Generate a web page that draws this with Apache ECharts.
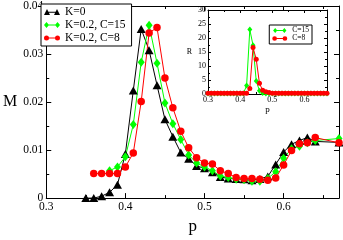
<!DOCTYPE html>
<html><head><meta charset="utf-8">
<script src="https://cdn.jsdelivr.net/npm/echarts@6/dist/echarts.min.js"></script>
<style>html,body{margin:0;padding:0;background:#fff}#c{width:343px;height:240px}</style>
</head><body><div id="c"></div>
<script>
// ---- main panel data: M vs p ----
const pK0 = [0.35,0.36,0.37,0.38,0.39,0.40,0.41,0.42,0.43,0.44,0.45,0.46,0.47,0.48,0.49,0.50,0.51,0.52,0.53,0.54,0.55,0.56,0.57,0.58,0.59,0.60,0.61,0.62,0.63,0.64,0.67];
const mK0 = [0.0000,0.0000,0.0004,0.0012,0.0028,0.0092,0.0224,0.0352,0.0308,0.0235,0.0164,0.0128,0.0095,0.0082,0.0067,0.0062,0.0054,0.0044,0.0041,0.0040,0.0039,0.0037,0.0040,0.0045,0.0070,0.0096,0.0112,0.0120,0.0126,0.0118,0.0116];
const pC15 = [0.38,0.39,0.40,0.41,0.42,0.43,0.44,0.45,0.46,0.47,0.48,0.49,0.50,0.51,0.52,0.53,0.54,0.55,0.56,0.57,0.58,0.59,0.60,0.61,0.62,0.63,0.64,0.67];
const mC15 = [0.0057,0.0065,0.0086,0.0153,0.0283,0.0360,0.0281,0.0198,0.0155,0.0122,0.0090,0.0073,0.0065,0.0057,0.0046,0.0043,0.0039,0.0038,0.0035,0.0035,0.0041,0.0055,0.0083,0.0103,0.0108,0.0115,0.0120,0.0124];
const pC8 = [0.36,0.37,0.38,0.39,0.40,0.41,0.42,0.43,0.44,0.45,0.46,0.47,0.48,0.49,0.50,0.51,0.52,0.53,0.54,0.55,0.56,0.57,0.58,0.59,0.60,0.61,0.62,0.63,0.64,0.67];
const mC8 = [0.0051,0.0051,0.0051,0.0051,0.0065,0.0094,0.0201,0.0344,0.0355,0.0250,0.0188,0.0139,0.0105,0.0084,0.0073,0.0071,0.0057,0.0051,0.0043,0.0041,0.0041,0.0039,0.0037,0.0042,0.0069,0.0099,0.0113,0.0115,0.0126,0.0115];

// ---- inset data: R vs p ----
const pInset = [0.30,0.31,0.32,0.33,0.34,0.35,0.36,0.37,0.38,0.39,0.40,0.41,0.42,0.43,0.44,0.45,0.46,0.47,0.48,0.49,0.50,0.51,0.52,0.53,0.54,0.55,0.56,0.57,0.58,0.59,0.60,0.61,0.62,0.63,0.64,0.65,0.66,0.67];
const rC15 = [0.2,0.2,0.2,0.2,0.2,0.2,0.2,0.2,0.2,0.2,0.2,0.2,3.0,23.0,17.4,4.6,1.2,0.4,0.2,0.2,0.2,0.2,0.2,0.2,0.2,0.2,0.2,0.2,0.2,0.2,0.2,0.2,0.2,0.2,0.2,0.2,0.2,0.2];
const rC8 = [0.3,0.3,0.3,0.3,0.3,0.3,0.3,0.3,0.3,0.3,0.3,0.3,0.3,2.0,16.6,12.4,3.8,1.3,0.8,0.5,0.3,0.3,0.3,0.3,0.3,0.3,0.3,0.3,0.3,0.3,0.3,0.3,0.3,0.3,0.3,0.3,0.3,0.3];

// ---- tick labels ----
const xTickLabels = ['0.3','0.4','0.5','0.6'];
const yTickLabels = ['0','0.01','0.02','0.03','0.04'];
const rTickLabels = ['0','5','10','15','20','25','30'];

const FONT = 'Liberation Serif';
const zip = (xs, ys) => xs.map((x, i) => [x, ys[i]]);
const BLACK = '#000000', GREEN = '#00ff00', RED = '#ff0000';

function axis(o) {
  const base = {
    type: 'value',
    axisLine: { onZero: false, lineStyle: { color: '#000', width: 1 } },
    axisTick: { inside: true, length: o.tickLen || 5, lineStyle: { color: '#000', width: 1 } },
    minorTick: { show: true, splitNumber: 2, length: o.minorLen || 3, lineStyle: { color: '#000', width: 1 } },
    splitLine: { show: false },
    axisLabel: { show: false }
  };
  return Object.assign(base, o.extra);
}

const xFmt = v => { const i = Math.round((v - 0.3) / 0.1); return xTickLabels[i] || ''; };
const yFmt = v => { const i = Math.round(v / 0.01); return yTickLabels[i] || ''; };
const rFmt = v => { const i = Math.round(v / 5); return rTickLabels[i] || ''; };

const chart = echarts.init(document.getElementById('c'), null, { renderer: 'canvas' });

const iconTri = 'path://M0,14L6,2L12,14ZM20,14L26,2L32,14ZM6,7.5L26,7.5L26,9.5L6,9.5Z';
const iconDia = 'path://M0,8L5,2L10,8L5,14ZM22,8L27,2L32,8L27,14ZM5,7L27,7L27,9L5,9Z';
const iconCir = 'path://M0,8A5,5 0 1,1 10,8A5,5 0 1,1 0,8ZM22,8A5,5 0 1,1 32,8A5,5 0 1,1 22,8ZM5,7L27,7L27,9L5,9Z';

const option = {
  animation: false,
  backgroundColor: '#fff',
  grid: [
    { left: 41, top: 4, right: 4, bottom: 27, containLabel: false },
    { left: 208, top: 10, right: 16, bottom: 146, containLabel: false, show: true, backgroundColor: '#fff', borderWidth: 0, z: 3 }
  ],
  xAxis: [
    axis({ extra: { gridIndex: 0, position: 'bottom', min: 0.3, max: 0.67, interval: 0.1,
      axisLabel: { show: true, showMaxLabel: false, formatter: xFmt, fontFamily: FONT, fontSize: 11.5, color: '#000', margin: 3 },
      name: 'p', nameLocation: 'middle', nameGap: 8, nameTextStyle: { fontFamily: FONT, fontSize: 17, color: '#000' } } }),
    axis({ extra: { gridIndex: 0, position: 'top', min: 0.3, max: 0.67, interval: 0.1 } }),
    axis({ tickLen: 3, minorLen: 2, extra: { gridIndex: 1, position: 'bottom', min: 0.3, max: 0.67, interval: 0.1, z: 4,
      axisLabel: { show: true, showMaxLabel: false, formatter: xFmt, fontFamily: FONT, fontSize: 8, color: '#000', margin: 2 },
      name: 'p', nameLocation: 'middle', nameGap: 9, nameTextStyle: { fontFamily: FONT, fontSize: 9, color: '#000' } } }),
    axis({ tickLen: 3, minorLen: 2, extra: { gridIndex: 1, position: 'top', min: 0.3, max: 0.67, interval: 0.1, z: 4 } })
  ],
  yAxis: [
    axis({ extra: { gridIndex: 0, position: 'left', min: 0, max: 0.04, interval: 0.01,
      axisLabel: { show: true, formatter: yFmt, fontFamily: FONT, fontSize: 11.5, color: '#000', margin: 3 },
      name: 'M', nameLocation: 'middle', nameRotate: 0, nameGap: 26, nameTextStyle: { fontFamily: FONT, fontSize: 16, color: '#000' } } }),
    axis({ extra: { gridIndex: 0, position: 'right', min: 0, max: 0.04, interval: 0.01 } }),
    axis({ tickLen: 3, minorLen: 2, extra: { gridIndex: 1, position: 'left', min: 0, max: 30, interval: 5, z: 4,
      axisLabel: { show: true, formatter: rFmt, fontFamily: FONT, fontSize: 8, color: '#000', margin: 2 },
      name: 'R', nameLocation: 'middle', nameRotate: 0, nameGap: 16, nameTextStyle: { fontFamily: FONT, fontSize: 8, color: '#000' } } }),
    axis({ tickLen: 3, minorLen: 2, extra: { gridIndex: 1, position: 'right', min: 0, max: 30, interval: 5, z: 4 } })
  ],
  legend: [
    { left: 41, top: 4, orient: 'vertical', selectedMode: false,
      backgroundColor: '#fff', borderColor: '#000', borderWidth: 1, borderRadius: 0,
      padding: [2, 6, 2, 3], itemGap: 1, itemWidth: 16, itemHeight: 8,
      textStyle: { fontFamily: FONT, fontSize: 11.5, color: '#000', lineHeight: 11 },
      data: [ { name: 'K=0', icon: iconTri }, { name: 'K=0.2, C=15', icon: iconDia }, { name: 'K=0.2, C=8', icon: iconCir } ] },
    { right: 31, top: 25, orient: 'vertical', selectedMode: false, z: 6,
      backgroundColor: '#fff', borderColor: '#000', borderWidth: 1, borderRadius: 0,
      padding: [1.5, 3, 1.5, 3], itemGap: 0, itemWidth: 15, itemHeight: 5,
      textStyle: { fontFamily: FONT, fontSize: 7.5, color: '#000', lineHeight: 8 },
      data: [ { name: 'C=15', icon: iconDia }, { name: 'C=8', icon: iconCir } ] }
  ],
  series: [
    { name: 'K=0', type: 'line', xAxisIndex: 0, yAxisIndex: 0, data: zip(pK0, mK0),
      symbol: 'triangle', symbolSize: [9, 8], showAllSymbol: true, clip: false,
      lineStyle: { color: BLACK, width: 1 }, itemStyle: { color: BLACK }, emphasis: { disabled: true } },
    { name: 'K=0.2, C=15', type: 'line', xAxisIndex: 0, yAxisIndex: 0, data: zip(pC15, mC15),
      symbol: 'diamond', symbolSize: [7, 9], showAllSymbol: true, clip: false,
      lineStyle: { color: GREEN, width: 1 }, itemStyle: { color: GREEN }, emphasis: { disabled: true } },
    { name: 'K=0.2, C=8', type: 'line', xAxisIndex: 0, yAxisIndex: 0, data: zip(pC8, mC8),
      symbol: 'circle', symbolSize: 7.5, showAllSymbol: true, clip: false,
      lineStyle: { color: RED, width: 1 }, itemStyle: { color: RED }, emphasis: { disabled: true } },
    { name: 'C=15', type: 'line', xAxisIndex: 2, yAxisIndex: 2, data: zip(pInset, rC15), z: 4,
      symbol: 'diamond', symbolSize: [5, 6], showAllSymbol: true, clip: false,
      lineStyle: { color: GREEN, width: 1 }, itemStyle: { color: GREEN }, emphasis: { disabled: true } },
    { name: 'C=8', type: 'line', xAxisIndex: 2, yAxisIndex: 2, data: zip(pInset, rC8), z: 4,
      symbol: 'circle', symbolSize: 5, showAllSymbol: true, clip: false,
      lineStyle: { color: RED, width: 1 }, itemStyle: { color: RED }, emphasis: { disabled: true } }
  ]
};
chart.setOption(option);
</script>
</body></html>
